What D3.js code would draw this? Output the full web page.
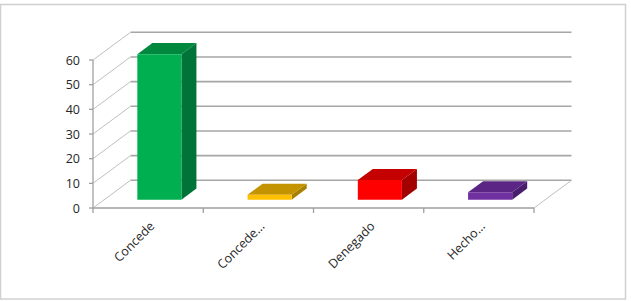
<!DOCTYPE html>
<html>
<head>
<meta charset="utf-8">
<script src="https://cdn.jsdelivr.net/npm/d3@7"></script>
<style>
  body { margin: 0; background: #fff; }
  text { font-family: "Open Sans", sans-serif; fill: #262626; }
</style>
</head>
<body>
<svg id="chart" width="631" height="301"></svg>
<script>
// data
var categories = ["Concede", "Concede...", "Denegado", "Hecho..."];
var values = [59, 2, 8, 3];
var yTicks = [0, 10, 20, 30, 40, 50, 60];
var frontColors = ["#00b050", "#ffc000", "#ff0000", "#7030a0"];
var topColors = ["#00883e", "#c49300", "#c40000", "#5a2585"];
var sideColors = ["#007438", "#a97f00", "#a30000", "#4a1e6e"];

var svg = d3.select("#chart");

// outer frame
svg.append("rect")
    .attr("x", 0.5).attr("y", 4.5)
    .attr("width", 625).attr("height", 294.5)
    .attr("fill", "none")
    .attr("stroke", "#d0d0d0")
    .attr("stroke-width", 1.5);

var x = d3.scaleBand().domain(categories).range([93, 534]).padding(0);
var y = d3.scaleLinear().domain([0, 60]).range([208, 60]);

// depth offset of the back wall
var depthX = 37.5, depthY = -27.7;
function proj(px, py, d) { return [px + depthX * d, py + depthY * d]; }

var line = d3.line();

// back wall gridlines
svg.selectAll(".grid")
    .data(yTicks)
    .enter()
    .append("path")
    .attr("d", function(d) {
      return line([proj(93, y(d), 1), proj(534, y(d), 1)]);
    })
    .attr("stroke", "#a6a6a6")
    .attr("stroke-width", 1.6)
    .attr("fill", "none");

// side wall diagonals
svg.selectAll(".diag")
    .data(yTicks)
    .enter()
    .append("path")
    .attr("d", function(d) {
      return line([[93, y(d)], proj(93, y(d), 1)]);
    })
    .attr("stroke", "#bfbfbf")
    .attr("stroke-width", 1)
    .attr("fill", "none");

// floor right edge
svg.append("path")
    .attr("d", line([[534, y(0)], proj(534, y(0), 1)]))
    .attr("stroke", "#bfbfbf").attr("fill", "none");

// front axes
svg.append("path")
    .attr("d", line([[93, y(60)], [93, y(0)], [534, y(0)]]))
    .attr("stroke", "#a0a0a0").attr("stroke-width", 1.3).attr("fill", "none");

svg.selectAll(".ytick")
    .data(yTicks)
    .enter()
    .append("path")
    .attr("d", function(d) { return line([[89, y(d)], [93, y(d)]]); })
    .attr("stroke", "#a0a0a0").attr("stroke-width", 1.3);

var bounds = categories.map(function(c) { return x(c); }).concat([534]);
svg.selectAll(".xtick")
    .data(bounds)
    .enter()
    .append("path")
    .attr("d", function(d) { return line([[d, y(0)], [d, y(0) + 5]]); })
    .attr("stroke", "#a0a0a0").attr("stroke-width", 1.3);

// y labels
svg.selectAll(".ylab")
    .data(yTicks)
    .enter()
    .append("text")
    .attr("x", 80)
    .attr("y", function(d) { return y(d); })
    .attr("dy", "0.36em")
    .attr("text-anchor", "end")
    .attr("font-size", 12.5)
    .text(function(d) { return d; });

// x labels
svg.selectAll(".xlab")
    .data(categories)
    .enter()
    .append("text")
    .attr("transform", function(d) {
      var cx = x(d) + x.bandwidth() / 2 + 7;
      return "translate(" + cx + "," + 227 + ") rotate(-45)";
    })
    .attr("text-anchor", "end")
    .attr("font-size", 12.5)
    .text(function(d) { return d; });

// 3d bars
var d0 = 0.3, d1 = 0.7;
var bw = x.bandwidth() * 0.4;
var bars = svg.selectAll(".bar")
    .data(values)
    .enter()
    .append("g");

bars.append("path")
    .attr("d", function(v, i) {
      var x0 = x(categories[i]) + x.bandwidth() * 0.3, x1 = x0 + bw;
      return line([proj(x1, y(0), d0), proj(x1, y(v), d0), proj(x1, y(v), d1), proj(x1, y(0), d1)]) + "Z";
    })
    .attr("fill", function(v, i) { return sideColors[i]; });

bars.append("path")
    .attr("d", function(v, i) {
      var x0 = x(categories[i]) + x.bandwidth() * 0.3, x1 = x0 + bw;
      return line([proj(x0, y(v), d0), proj(x0, y(v), d1), proj(x1, y(v), d1), proj(x1, y(v), d0)]) + "Z";
    })
    .attr("fill", function(v, i) { return topColors[i]; });

bars.append("path")
    .attr("d", function(v, i) {
      var x0 = x(categories[i]) + x.bandwidth() * 0.3, x1 = x0 + bw;
      return line([proj(x0, y(0), d0), proj(x0, y(v), d0), proj(x1, y(v), d0), proj(x1, y(0), d0)]) + "Z";
    })
    .attr("fill", function(v, i) { return frontColors[i]; });
</script>
</body>
</html>
